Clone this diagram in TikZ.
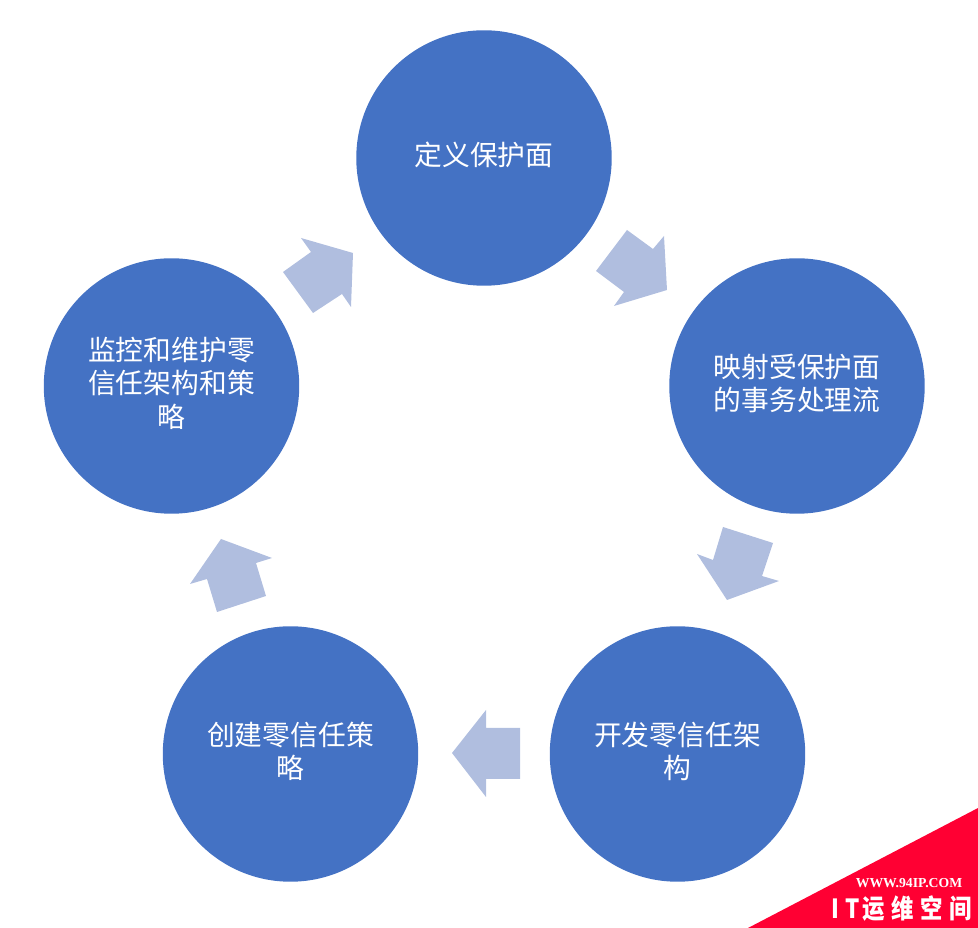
\documentclass[tikz,border=0pt]{standalone}
\usepackage{fontspec}
\setmainfont{Noto Sans CJK SC}
\newfontfamily\markfont{Liberation Serif}[Scale=1]
\definecolor{stepblue}{HTML}{4472C4}
\definecolor{arrowblue}{HTML}{B0BEDF}
\definecolor{markred}{HTML}{FF0033}
\tikzset{
  stepnode/.style={circle,fill=stepblue,minimum size=5.11cm,inner sep=0pt,text=white,
    align=center,font=\fontsize{15.8}{19.2}\selectfont,
    execute at begin node={\rule{0pt}{13pt}},
    execute at end node={\rule[-4.3pt]{0pt}{0pt}}},
  flowarrow/.style={fill=arrowblue,draw=none}
}
\begin{document}
\begin{tikzpicture}[x=0.02cm,y=-0.02cm]
        \useasboundingbox (0,0) rectangle (978,928);
        \node[stepnode] (define) at (484,158) {定义保护面};
        \node[stepnode] (map) at (797,386) {映射受保护面\\的事务处理流};
        \node[stepnode] (develop) at (677.5,754) {开发零信任架\\构};
        \node[stepnode] (create) at (290.5,754) {创建零信任策\\略};
        \node[stepnode] (monitor) at (171.5,386) {监控和维护零\\信任架构和策\\略};
        \fill[flowarrow] (627,230) -- (653,249) -- (664,236) -- (667,290) -- (614,306) -- (624,292) -- (596,271) -- cycle;
        \fill[flowarrow] (723,527) -- (773,543) -- (762,576) -- (779,581) -- (727,600) -- (697,554) -- (713,560) -- cycle;
        \fill[flowarrow] (520,728) -- (486,728) -- (486,710) -- (452,753) -- (486,797) -- (486,779) -- (520,779) -- cycle;
        \fill[flowarrow] (221,539) -- (272,558) -- (256,563) -- (266,596) -- (217,612) -- (207,579) -- (190,584) -- cycle;
        \fill[flowarrow] (301,238) -- (353,253) -- (351,307) -- (342,294) -- (313,313) -- (283,272) -- (311,252) -- cycle;
        \fill[markred] (978,808) -- (978,928) -- (748,928) -- cycle;
        \node[text=white,font=\markfont\bfseries\fontsize{7.8}{8}\selectfont] (site) at (909,883.5) {WWW.94IP.COM};
        \node[text=white,font=\bfseries\fontsize{15}{16}\selectfont] (brand) at (901.5,909) {\scalebox{0.85}[1]{I\kern4pt T\kern2pt 运\kern4.4pt 维\kern4.4pt 空\kern4.4pt 间}};
      \end{tikzpicture}
\end{document}
